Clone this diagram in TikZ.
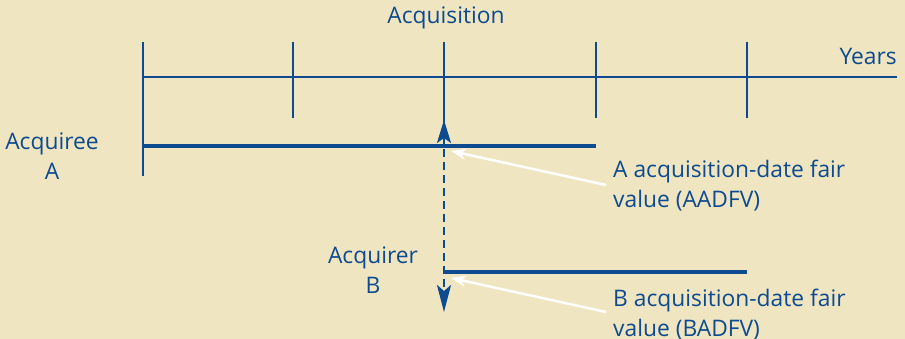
\documentclass[tikz,border=0pt]{standalone}
\usepackage{fontspec}
\setmainfont{Open Sans}
\usetikzlibrary{arrows.meta}
\definecolor{bg}{HTML}{EFE5C1}
\definecolor{navy}{HTML}{0D4A8F}
\begin{document}
\begin{tikzpicture}[x=1pt,y=-1pt,
  lbl/.style={text=navy,font=\fontsize{22.8}{30}\selectfont,inner sep=0pt},
  axis/.style={navy,line width=2pt},
  bar/.style={navy,line width=4.5pt},
  ptr/.style={white,line width=2.5pt,-{Stealth[length=15pt,width=11pt]}}]
\fill[bg] (0,0) rectangle (905,339);
\useasboundingbox (0,0) rectangle (905,339);
% axis
\coordinate (ax0) at (143,77);
\coordinate (ax1) at (897,77);
\draw[axis] (ax0) -- (ax1);
\foreach \x/\n in {293/t2,596/t4,747/t5}{
  \coordinate (\n a) at (\x,42); \coordinate (\n b) at (\x,118);
  \draw[axis] (\n a) -- (\n b);
}
\coordinate (t1a) at (143,42); \coordinate (t1b) at (143,176);
\draw[axis] (t1a) -- (t1b);
\coordinate (t3a) at (444,42); \coordinate (t3b) at (444,146);
\draw[axis] (t3a) -- (t3b);
\coordinate (up0) at (444,146); \coordinate (up1) at (444,120);
\draw[navy,line width=2pt,-{Stealth[length=23pt,width=14pt,inset=5pt]}] (up0) -- (up1);
% bars
\coordinate (a0) at (143,146); \coordinate (a1) at (596,146);
\draw[bar] (a0) -- (a1);
\coordinate (b0) at (444,272); \coordinate (b1) at (747,272);
\draw[bar] (b0) -- (b1);
% dashed
\coordinate (d0) at (444,149); \coordinate (d1) at (444,312);
\draw[navy,line width=2.5pt,dash pattern=on 8pt off 5pt,-{Stealth[length=27pt,width=14pt,inset=6pt]}] (d0) -- (d1);
% white pointers
\coordinate (p1s) at (606,185); \coordinate (p1e) at (451,151);
\draw[ptr] (p1s) -- (p1e);
\coordinate (p2s) at (606,312); \coordinate (p2e) at (451,278);
\draw[ptr] (p2s) -- (p2e);
% labels
\node[lbl] (acq) at (446,18) {Acquisition};
\node[lbl,anchor=east] (yrs) at (897,56) {Years};
\node[lbl,align=center] (ta) at (52,156) {Acquiree\\A};
\node[lbl,align=center] (tb) at (373,270) {Acquirer\\B};
\node[lbl,align=left,anchor=west] (fa) at (613,186) {A acquisition-date fair\\value (AADFV)};
\node[lbl,align=left,anchor=west] (fb) at (613,315) {B acquisition-date fair\\value (BADFV)};
\end{tikzpicture}
\end{document}
